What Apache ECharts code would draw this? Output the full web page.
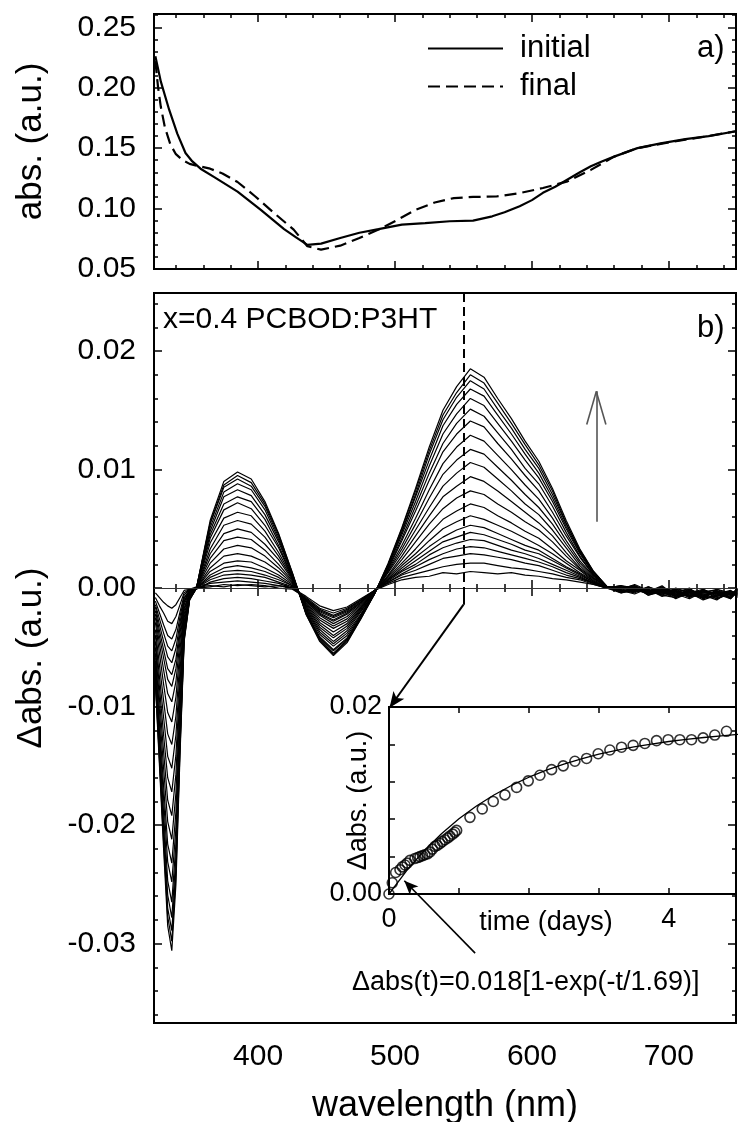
<!DOCTYPE html>
<html><head><meta charset="utf-8">
<script src="https://cdn.jsdelivr.net/npm/echarts@6/dist/echarts.min.js"></script>
<style>html,body{margin:0;padding:0;background:#fff}#c{width:741px;height:1122px}</style>
</head><body><div id="c"></div>
<script>
// ---------------- panel a) absorbance ----------------
const wlInitial = [325,329,335,341,347,352,358,368,385,402,419,428,436,446,460,474,488,505,522,540,557,571,580,591,600,608,617,626,635,643,651,660,677,694,712,729,749];
const absInitial = [0.226,0.205,0.182,0.162,0.146,0.139,0.133,0.126,0.114,0.099,0.083,0.076,0.070,0.071,0.0757,0.080,0.083,0.0867,0.088,0.0895,0.090,0.0936,0.097,0.102,0.107,0.113,0.118,0.124,0.130,0.135,0.139,0.143,0.150,0.154,0.1574,0.160,0.164];
const wlFinal = [325,327,329,332,336,340,345,350,357,365,374,385,398,412,426,436,446,460,474,488,502,515,529,543,557,574,591,608,626,643,660,677,694,712,729,749];
const absFinal = [0.222,0.200,0.184,0.167,0.153,0.145,0.140,0.137,0.135,0.133,0.129,0.122,0.110,0.096,0.0826,0.0688,0.066,0.0693,0.0757,0.0826,0.0908,0.099,0.105,0.1087,0.1096,0.110,0.1128,0.117,0.1225,0.132,0.143,0.150,0.1535,0.157,0.160,0.164];

// ---------------- panel b) difference spectra ----------------
const wl = [325,328,331,334,337,340,343,346,350,355,365,375,385,395,405,415,425,435,445,455,465,475,485,495,505,515,525,535,545,555,565,575,585,595,605,615,625,635,645,655,665,675,685,695,705,715,725,735,745,750];
const spec01 = [-.0004,-.0008,-.0012,-.0015,-.0017,-.0014,-.0008,-.0002,-.0001, .0001,.0002,.0001,.0003,.0002,.0001,.0002,0, -.0007,-.0015,-.0019,-.0016,-.0009,-.0002, .0003,.0007,.0009,.001,.0013,.0012,.0014,.0013,.0012,.0013,.0011,.001,.0008,.0007,.0005,.0003,0, .0002,0,-.0003,.0001,-.0005,-.0002,-.0007,-.0003,-.0005,-.0001];
const spec02 = [-.0008,-.0015,-.0021,-.0028,-.003,-.0024,-.0014,-.0004,-.0001, 0,.0001,.0003,.0002,.0003,.0002,0,-.0001, -.0008,-.0017,-.0021,-.0017,-.001,-.0002, .0004,.0009,.0012,.0015,.0018,.002,.0021,.0021,.0019,.0017,.0016,.0014,.0012,.0009,.0007,.0003,0, -.0002,-.0004,.0001,-.0003,-.0002,-.0008,-.0001,-.0006,-.0003,-.0005];
const spec03 = [-.0011,-.0021,-.0031,-.004,-.0043,-.0035,-.002,-.0006,-.0001, 0,.0004,.0005,.0006,.0005,.0004,.0002,0, -.0009,-.0018,-.0023,-.0018,-.001,-.0002, .0005,.0011,.0015,.002,.0025,.0027,.0029,.0028,.0026,.0024,.0021,.0019,.0015,.0011,.0008,.0004,0, 0,.0002,-.0002,-.0006,0,-.0004,-.0008,-.0002,-.0009,-.0003];
const spec04 = [-.0014,-.0026,-.0038,-.0049,-.0053,-.0043,-.0024,-.0008,-.0002, -.0001,.0005,.0008,.0009,.0008,.0006,.0004,0, -.0009,-.0019,-.0024,-.0019,-.0011,-.0002, .0005,.0012,.0018,.0024,.0029,.0033,.0035,.0034,.0031,.0028,.0025,.0022,.0018,.0013,.0009,.0004,0, -.0004,-.0001,-.0003,.0002,-.0007,-.0005,-.0002,-.0009,-.0004,-.0006];
const spec05 = [-.0016,-.0031,-.0045,-.0058,-.0063,-.0051,-.0029,-.0009,-.0002, 0,.0007,.0011,.0012,.0011,.0009,.0005,.0001, -.001,-.002,-.0025,-.002,-.0012,-.0002, .0006,.0014,.002,.0028,.0034,.0038,.0041,.004,.0036,.0032,.0029,.0025,.002,.0015,.001,.0004,0, .0001,-.0003,0,-.0004,-.0001,-.0006,-.0003,-.0004,-.0008,-.0001];
const spec06 = [-.0019,-.0036,-.0052,-.0068,-.0073,-.006,-.0033,-.0011,-.0002, 0,.0009,.0014,.0015,.0014,.0011,.0007,.0002, -.001,-.0021,-.0027,-.0021,-.0012,-.0002, .0007,.0015,.0023,.0031,.0039,.0043,.0047,.0045,.0041,.0037,.0032,.0029,.0023,.0017,.0011,.0005,0, -.0001,.0001,-.0006,-.0002,-.0004,0,-.0009,-.0006,-.0003,-.0007];
const spec07 = [-.0022,-.0041,-.0059,-.0077,-.0083,-.0068,-.0038,-.0012,-.0003, 0,.0011,.0017,.0019,.0017,.0014,.0009,.0002, -.0011,-.0022,-.0028,-.0022,-.0013,-.0002, .0007,.0017,.0026,.0035,.0043,.0049,.0053,.0051,.0046,.0041,.0036,.0032,.0025,.0018,.0012,.0005,0, 0,-.0002,-.0004,-.0005,-.0002,-.0007,-.0004,-.0001,-.0006,-.0002];
const spec08 = [-.0025,-.0047,-.0069,-.0089,-.0096,-.0079,-.0044,-.0014,-.0003, 0,.0014,.0021,.0023,.0022,.0017,.0011,.0003, -.0011,-.0023,-.003,-.0024,-.0014,-.0003, .0008,.0019,.0029,.004,.005,.0056,.0061,.0058,.0053,.0048,.0042,.0036,.0029,.0021,.0013,.0006,0, -.0003,0,-.0001,-.0006,-.0008,-.0003,-.0005,-.0009,-.0005,-.0004];
const spec09 = [-.0029,-.0055,-.0081,-.0105,-.0113,-.0092,-.0052,-.0017,-.0004, 0,.0017,.0027,.0029,.0027,.0022,.0014,.0004, -.0012,-.0025,-.0032,-.0026,-.0015,-.0003, .0009,.0021,.0033,.0046,.0058,.0065,.0071,.0068,.0061,.0055,.0048,.0042,.0033,.0023,.0015,.0006,0, .0002,-.0001,-.0005,0,-.0003,-.0008,-.0002,-.0005,-.0002,-.0008];
const spec10 = [-.0035,-.0065,-.0095,-.0123,-.0132,-.0108,-.006,-.0019,-.0004, 0,.0021,.0033,.0036,.0034,.0027,.0017,.0005, -.0013,-.0027,-.0034,-.0028,-.0016,-.0003, .001,.0024,.0039,.0054,.0067,.0076,.0082,.0079,.0071,.0064,.0056,.0049,.0039,.0027,.0016,.0007,0, -.0001,.0003,-.0002,-.0003,-.0006,-.0001,-.0007,-.0003,-.0008,-.0002];
const spec11 = [-.004,-.0075,-.0109,-.0142,-.0152,-.0124,-.007,-.0022,-.0005, 0,.0025,.004,.0043,.0041,.0032,.002,.0006, -.0014,-.0029,-.0037,-.003,-.0017,-.0003, .0011,.0027,.0044,.0061,.0077,.0086,.0094,.009,.0082,.0073,.0064,.0055,.0044,.003,.0017,.0008,.0001, -.0002,-.0005,0,-.0002,-.0009,-.0004,-.0001,-.0007,-.0004,-.0006];
const spec12 = [-.0045,-.0084,-.0124,-.016,-.0172,-.0141,-.0079,-.0025,-.0006, 0,.0029,.0046,.005,.0047,.0037,.0024,.0007, -.0015,-.0031,-.004,-.0032,-.0018,-.0003, .0013,.003,.0049,.0068,.0086,.0097,.0106,.0102,.0092,.0082,.0071,.0062,.0049,.0034,.0019,.0008,.0001, .0001,0,-.0004,-.0001,-.0002,-.0006,-.0008,-.0003,-.0006,-.0001];
const spec13 = [-.005,-.0094,-.0138,-.0179,-.0192,-.0157,-.0088,-.0028,-.0006, 0,.0033,.0053,.0057,.0054,.0043,.0027,.0008, -.0016,-.0033,-.0042,-.0034,-.0019,-.0004, .0014,.0033,.0054,.0076,.0096,.0108,.0117,.0113,.0102,.0091,.0079,.0068,.0054,.0037,.0021,.0009,.0001, -.0003,-.0001,-.0002,-.0005,-.0001,-.0003,-.0006,-.001,-.0002,-.0005];
const spec14 = [-.0055,-.0104,-.0152,-.0197,-.0212,-.0173,-.0097,-.0031,-.0007, 0,.0038,.0059,.0064,.0061,.0048,.003,.0009, -.0017,-.0035,-.0045,-.0036,-.002,-.0004, .0015,.0036,.0059,.0083,.0105,.0119,.0129,.0124,.0112,.01,.0087,.0075,.0059,.004,.0023,.001,.0001, 0,.0002,-.0006,-.0003,-.0007,-.0002,-.0004,-.0005,-.0009,-.0003];
const spec15 = [-.0061,-.0114,-.0167,-.0216,-.0232,-.0189,-.0106,-.0034,-.0008, 0,.0042,.0066,.0072,.0067,.0053,.0034,.0009, -.0018,-.0037,-.0047,-.0038,-.0022,-.0004, .0016,.004,.0065,.0091,.0115,.013,.0141,.0136,.0122,.0109,.0095,.0082,.0064,.0044,.0026,.0011,.0001, -.0002,-.0003,.0001,-.0004,-.0005,-.0009,-.0003,-.0002,-.0006,-.0004];
const spec16 = [-.0065,-.0122,-.0178,-.0231,-.0248,-.0203,-.0114,-.0036,-.0008, 0,.0045,.0071,.0077,.0073,.0058,.0036,.001, -.0019,-.0039,-.0049,-.004,-.0023,-.0004, .0017,.0042,.0069,.0097,.0122,.0139,.0151,.0145,.0131,.0117,.0101,.0088,.0069,.0047,.0027,.0011,.0001, .0001,-.0002,-.0003,0,-.0008,-.0004,-.001,-.0006,-.0003,-.0007];
const spec17 = [-.0069,-.013,-.019,-.0247,-.0265,-.0216,-.0121,-.0039,-.0009, 0,.0048,.0077,.0083,.0078,.0062,.0039,.0011, -.002,-.0041,-.0052,-.0042,-.0024,-.0005, .0018,.0045,.0073,.0103,.013,.0147,.016,.0154,.0139,.0124,.0108,.0093,.0073,.005,.0029,.0012,.0001, -.0001,.0001,-.0005,-.0002,-.0003,-.0001,-.0006,-.0004,-.0007,0];
const spec18 = [-.0073,-.0136,-.02,-.0259,-.0278,-.0227,-.0127,-.0041,-.0009, 0,.0051,.0081,.0088,.0083,.0066,.0041,.0012, -.0021,-.0042,-.0053,-.0043,-.0024,-.0005, .0019,.0047,.0077,.0108,.0137,.0155,.0168,.0162,.0146,.013,.0113,.0097,.0076,.0052,.003,.0013,.0001, -.0004,-.0002,-.0001,-.0007,-.0004,-.0006,-.0002,-.0008,-.0005,-.0003];
const spec19 = [-.0076,-.0142,-.0208,-.027,-.0289,-.0237,-.0132,-.0043,-.0009, 0,.0054,.0085,.0092,.0086,.0069,.0043,.0012, -.0021,-.0043,-.0055,-.0044,-.0025,-.0005, .002,.0048,.0079,.0113,.0142,.0161,.0175,.0168,.0151,.0135,.0117,.0101,.0079,.0054,.0031,.0013,.0001, 0,-.0001,-.0003,.0001,-.0006,-.0003,-.0009,-.0001,-.0004,-.0006];
const spec20 = [-.0078,-.0146,-.0214,-.0277,-.0298,-.0243,-.0136,-.0044,-.001, 0,.0055,.0087,.0095,.0089,.0071,.0045,.0013, -.0022,-.0044,-.0056,-.0045,-.0026,-.0005, .002,.005,.0082,.0116,.0146,.0165,.018,.0173,.0156,.0139,.0121,.0104,.0082,.0055,.0032,.0014,.0001, -.0002,.0002,-.0004,-.0003,-.0002,-.0007,-.0005,-.0004,-.0008,-.0002];
const spec21 = [-.008,-.015,-.022,-.0285,-.0306,-.025,-.014,-.0045,-.001, 0,.0057,.009,.0098,.0092,.0073,.0046,.0013, -.0022,-.0045,-.0057,-.0046,-.0026,-.0005, .0021,.0051,.0084,.0119,.015,.017,.0185,.0178,.016,.0143,.0124,.0107,.0084,.0057,.0033,.0014,.0001, -.0003,0,-.0002,-.0005,-.0006,-.0002,-.0008,-.0007,-.0003,-.0005];
const spectra = [spec01,spec02,spec03,spec04,spec05,spec06,spec07,spec08,spec09,spec10,spec11,spec12,spec13,spec14,spec15,spec16,spec17,spec18,spec19,spec20,spec21];

// ---------------- inset: Δabs at 550 nm vs time ----------------
const tDays = [0,0.047,0.095,0.157,0.19,0.229,0.26,0.3,0.371,0.41,0.443,0.48,0.514,0.55,0.586,0.62,0.657,0.69,0.729,0.76,0.8,0.84,0.871,0.91,0.94,0.967,1.157,1.333,1.49,1.657,1.824,1.99,2.157,2.324,2.49,2.657,2.824,2.99,3.157,3.324,3.49,3.657,3.824,3.99,4.157,4.324,4.49,4.657,4.824,4.99];
const dAbs550 = [0,0.0012,0.0023,0.0026,0.0029,0.0031,0.0033,0.0036,0.0038,0.0039,0.0040,0.0041,0.0042,0.0043,0.0045,0.0048,0.0051,0.0052,0.0054,0.0056,0.0058,0.0060,0.0062,0.0064,0.0066,0.0068,0.0082,0.0091,0.0099,0.0106,0.0114,0.0121,0.0127,0.0133,0.0137,0.0142,0.0145,0.0150,0.0154,0.0157,0.0159,0.0161,0.0164,0.0165,0.0165,0.0165,0.0167,0.0170,0.0174,0.0172];
const tFit = [0,0.25,0.5,0.75,1,1.25,1.5,1.75,2,2.25,2.5,2.75,3,3.25,3.5,3.75,4,4.25,4.5,4.75,5];
const dAbsFit = [0,0.00248,0.00461,0.00645,0.00804,0.00941,0.01059,0.01161,0.01249,0.01325,0.0139,0.01446,0.01495,0.01537,0.01573,0.01604,0.01631,0.01654,0.01674,0.01692,0.01707];

// ---------------- ticks ----------------
const xMajorTicks = [400,500,600,700];
const xMinorTicks = [340,360,380,420,440,460,480,520,540,560,580,620,640,660,680,720,740];
const yAMajorTicks = [0.05,0.10,0.15,0.20,0.25];
const yAMinorTicks = [0.06,0.07,0.08,0.09,0.11,0.12,0.13,0.14,0.16,0.17,0.18,0.19,0.21,0.22,0.23,0.24,0.26];
const yBMajorTicks = [-0.03,-0.02,-0.01,0,0.01,0.02];
const yBMinorTicks = [-0.036,-0.034,-0.032,-0.028,-0.026,-0.024,-0.022,-0.018,-0.016,-0.014,-0.012,-0.008,-0.006,-0.004,-0.002,0.002,0.004,0.006,0.008,0.012,0.014,0.016,0.018,0.022,0.024];

// ---------------- chart ----------------
const FONT = '"Liberation Sans", Arial, Helvetica, sans-serif';
const K = '#000';
const XMIN = 324, XMAX = 749;
const YA = [0.05, 0.261], YB = [-0.0367, 0.0249];

function ax(gridIndex, position, min, max, ticks, len, extra) {
  return Object.assign({
    type: 'value', gridIndex, position, min, max, nameMoveOverlap: false,
    axisLine: {show: false}, splitLine: {show: false},
    axisTick: {show: true, inside: true, length: len, customValues: ticks, lineStyle: {color: K, width: 1.5}},
    axisLabel: {show: false}, silent: true
  }, extra || {});
}
const lbl = (vals, fmt, margin, size) => ({show: true, customValues: vals, formatter: fmt, margin, color: K, fontSize: size || 30, fontFamily: FONT});
const f2 = v => v.toFixed(2);

const xAxis = [
  ax(0,'bottom',XMIN,XMAX,xMajorTicks,8),
  ax(0,'bottom',XMIN,XMAX,xMinorTicks,4),
  ax(0,'top',XMIN,XMAX,xMajorTicks,8),
  ax(0,'top',XMIN,XMAX,xMinorTicks,4),
  ax(1,'bottom',XMIN,XMAX,xMajorTicks,8,{axisLabel: lbl(xMajorTicks, v => String(v), 19),
      name: 'wavelength (nm)', nameLocation: 'middle', nameGap: 65,
      nameTextStyle: {fontSize: 36, fontFamily: FONT, color: K}}),
  ax(1,'bottom',XMIN,XMAX,xMinorTicks,4),
  ax(1,'top',XMIN,XMAX,xMajorTicks,8),
  ax(1,'top',XMIN,XMAX,xMinorTicks,4),
  {type:'value', gridIndex:2, position:'bottom', min:0, max:4.96, interval:1, nameMoveOverlap:false,
   axisLine:{show:false}, splitLine:{show:false},
   axisTick:{show:true, inside:true, length:6, lineStyle:{color:K,width:1.5}},
   axisLabel:{show:true, margin:12, color:K, fontSize:27, fontFamily:FONT, showMaxLabel:false,
     formatter: v => (Math.abs(v) < 1e-9 || Math.abs(v-4) < 1e-9) ? String(Math.round(v)) : ''},
   name:'time (days)', nameLocation:'middle', nameGap:15,
   nameTextStyle:{fontSize:27, fontFamily:FONT, color:K, padding:[0,33,0,0]}},
  {type:'value', gridIndex:2, position:'top', min:0, max:4.96, interval:1,
   axisLine:{show:false}, splitLine:{show:false},
   axisTick:{show:true, inside:true, length:6, lineStyle:{color:K,width:1.5}},
   axisLabel:{show:false}}
];
const yAxis = [
  ax(0,'left',YA[0],YA[1],yAMajorTicks,8,{axisLabel: lbl(yAMajorTicks, f2, 18),
      name:'abs. (a.u.)', nameLocation:'middle', nameGap:105, nameRotate:90,
      nameTextStyle:{fontSize:35, fontFamily:FONT, color:K}}),
  ax(0,'left',YA[0],YA[1],yAMinorTicks,4),
  ax(0,'right',YA[0],YA[1],yAMajorTicks,8),
  ax(0,'right',YA[0],YA[1],yAMinorTicks,4),
  ax(1,'left',YB[0],YB[1],yBMajorTicks,8,{axisLabel: lbl(yBMajorTicks, f2, 18),
      name:'\u0394abs. (a.u.)', nameLocation:'middle', nameGap:105, nameRotate:90,
      nameTextStyle:{fontSize:35, fontFamily:FONT, color:K}}),
  ax(1,'left',YB[0],YB[1],yBMinorTicks,4),
  ax(1,'right',YB[0],YB[1],yBMajorTicks,8),
  ax(1,'right',YB[0],YB[1],yBMinorTicks,4),
  {type:'value', gridIndex:2, position:'left', min:0, max:0.02, interval:0.004, nameMoveOverlap:false,
   axisLine:{show:false}, splitLine:{show:false},
   axisTick:{show:true, inside:true, length:6, lineStyle:{color:K,width:1.5}},
   axisLabel:{show:true, margin:7, color:K, fontSize:27, fontFamily:FONT, showMaxLabel:true,
     formatter: v => Math.abs(v) < 1e-9 ? '0.00' : (Math.abs(v-0.02) < 1e-9 ? '0.02' : '')},
   name:'\u0394abs. (a.u.)', nameLocation:'middle', nameGap:17, nameRotate:90,
   nameTextStyle:{fontSize:27, fontFamily:FONT, color:K}}
];

const series = [];
series.push({name:'initial', type:'line', xAxisIndex:0, yAxisIndex:0, symbol:'none', silent:true,
  data: wlInitial.map((w,i)=>[w, absInitial[i]]), lineStyle:{color:K, width:2.2}, itemStyle:{color:K}});
series.push({name:'final', type:'line', xAxisIndex:0, yAxisIndex:0, symbol:'none', silent:true,
  data: wlFinal.map((w,i)=>[w, absFinal[i]]), lineStyle:{color:K, width:2.2, type:[12,6]}, itemStyle:{color:K}});
spectra.forEach((arr, k) => series.push({type:'line', xAxisIndex:4, yAxisIndex:4, symbol:'none', silent:true, z:3,
  data: wl.map((w,i)=>[w, arr[i]]), lineStyle:{color:K, width:1.2}}));

// annotation lines in data coordinates of panel b
const thin = {color:'#333', width:1, type:'solid'};
const solid2 = {color:K, width:2, type:'solid'};
const grey = {color:'#555', width:1.6, type:'solid'};
series.push({type:'line', xAxisIndex:4, yAxisIndex:4, data:[], silent:true, z:5,
  markLine:{silent:true, symbol:['none','none'], label:{show:false}, animation:false,
    data:[
      {yAxis:0, lineStyle:thin},
      [{coord:[550, YB[1]], lineStyle:{color:K, width:2, type:[9,5]}}, {coord:[550, 0]}],
      [{coord:[550, 0], lineStyle:solid2}, {coord:[550, -0.0014]}],
      [{coord:[550, -0.0014], lineStyle:solid2}, {coord:[496, -0.0101], symbol:'arrow', symbolSize:[10,16]}],
      [{coord:[558.5, -0.0308], lineStyle:{color:K, width:1.6, type:'solid'}}, {coord:[506.8, -0.0247], symbol:'arrow', symbolSize:[9,14]}],
      [{coord:[647, 0.0056], lineStyle:grey}, {coord:[647, 0.0166]}],
      [{coord:[640, 0.0138], lineStyle:grey}, {coord:[647, 0.0166]}],
      [{coord:[647, 0.0166], lineStyle:grey}, {coord:[654, 0.0138]}]
    ]}});

// inset
series.push({type:'line', xAxisIndex:8, yAxisIndex:8, symbol:'none', silent:true,
  data: tFit.map((t,i)=>[t, dAbsFit[i]]), lineStyle:{color:K, width:1.3}});
series.push({type:'scatter', xAxisIndex:8, yAxisIndex:8, symbol:'circle', symbolSize:10, silent:true,
  data: tDays.map((t,i)=>[t, dAbs550[i]]), itemStyle:{color:'rgba(255,255,255,0)', borderColor:K, borderWidth:1.6}});

const option = {
  animation: false,
  backgroundColor: '#fff',
  textStyle: {fontFamily: FONT, color: K},
  grid: [
    {left:154, top:14, width:582, height:255, show:true, borderColor:K, borderWidth:2, backgroundColor:'transparent', outerBoundsMode:'none'},
    {left:154, top:293, width:582, height:730, show:true, borderColor:K, borderWidth:2, backgroundColor:'transparent', outerBoundsMode:'none'},
    {left:389, top:707, width:347, height:187, show:true, borderColor:K, borderWidth:2, backgroundColor:'transparent', outerBoundsMode:'none'}
  ],
  legend: {data:['initial','final'], orient:'vertical', left:422, top:28, itemWidth:75, itemHeight:14, itemGap:7,
    selectedMode:false, itemStyle:{opacity:0},
    textStyle:{fontSize:31, lineHeight:31, fontFamily:FONT, color:K, padding:[0,0,0,12]}},
  xAxis, yAxis, series,
  graphic: [
    {type:'text', left:697, top:33, style:{text:'a)', fontSize:31, fontFamily:FONT, fill:K}},
    {type:'text', left:697, top:313, style:{text:'b)', fontSize:31, fontFamily:FONT, fill:K}},
    {type:'text', left:163, top:305, style:{text:'x=0.4 PCBOD:P3HT', fontSize:30, fontFamily:FONT, fill:K}},
    {type:'text', left:352, top:969, style:{text:'\u0394abs(t)=0.018[1-exp(-t/1.69)]', fontSize:27, fontFamily:FONT, fill:K}}
  ]
};
const chart = echarts.init(document.getElementById('c'), null, {renderer:'canvas'});
chart.setOption(option);
</script>
</body></html>
